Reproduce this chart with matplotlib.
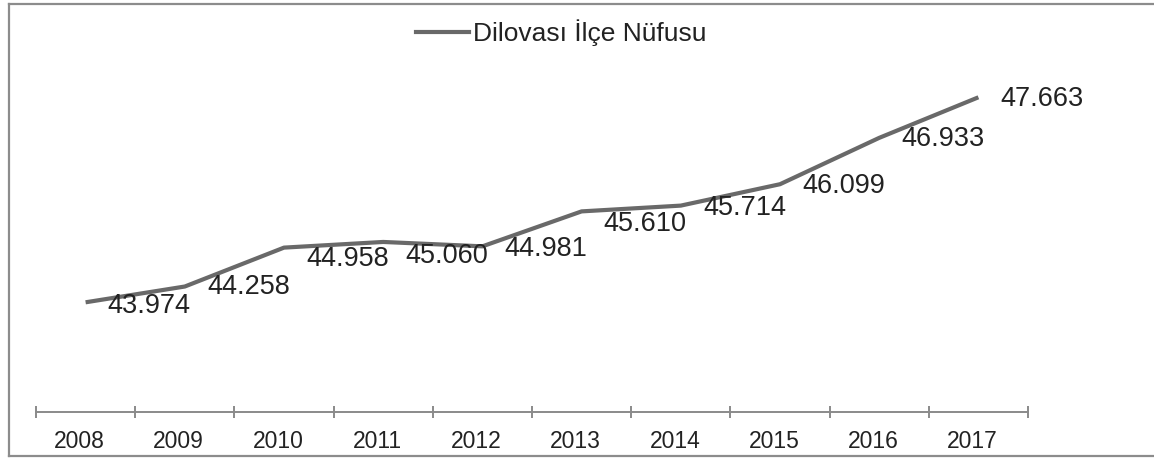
import matplotlib
matplotlib.use("Agg")
import matplotlib.pyplot as plt
from matplotlib.lines import Line2D
from matplotlib.transforms import offset_copy, ScaledTranslation

plt.rcParams['font.family'] = ['Liberation Sans', 'DejaVu Sans']

years = ["2008", "2009", "2010", "2011", "2012", "2013", "2014", "2015", "2016", "2017"]
population = [43974, 44258, 44958, 45060, 44981, 45610, 45714, 46099, 46933, 47663]
series_name = "Dilovası İlçe Nüfusu"

# vertical nudge (points, downward) for each value label
label_dy = [3, 0, 8, 10, 2, 9, 2, 1, 1, 1]

LINE_COLOR = "#696969"
TEXT_COLOR = "#222222"
AXIS_COLOR = "#8a8a8a"

W, H = 1154, 459
fig = plt.figure(figsize=(W / 100, H / 100), dpi=100)
fig.patch.set_facecolor("white")

ax = fig.add_axes([36 / W, 1 - 412 / H, (1028 - 36) / W, (412 - 23) / H])
x = list(range(len(years)))
ax.plot(x, population, color=LINE_COLOR, lw=3.0, solid_capstyle="butt",
        solid_joinstyle="round")

ax.set_xlim(-0.5, len(years) - 0.5)
ax.set_ylim(42000, 49000)
ax.set_yticks([])
for side in ("top", "right", "left"):
    ax.spines[side].set_visible(False)
ax.spines["bottom"].set_color(AXIS_COLOR)
ax.spines["bottom"].set_linewidth(1.4)

# category boundaries carry the tick marks, centres carry the labels
ax.set_xticks([i - 0.5 for i in range(len(years) + 1)])
ax.set_xticklabels([])
ax.set_xticks(x, minor=True)
ax.set_xticklabels(years, minor=True, fontsize=16.5, color=TEXT_COLOR)
ax.tick_params(axis="x", which="major", direction="inout", length=9,
               width=1.4, color=AXIS_COLOR)
ax.tick_params(axis="x", which="minor", length=0, pad=13)
shift = ScaledTranslation(-6 / 100, 0, fig.dpi_scale_trans)
for lbl in ax.get_xticklabels(minor=True):
    lbl.set_transform(lbl.get_transform() + shift)
ax.patch.set_alpha(0)

for xi, val, dy in zip(x, population, label_dy):
    txt = f"{val:,}".replace(",", ".")
    tr = offset_copy(ax.transData, fig=fig, x=16, y=-dy, units="points")
    ax.text(xi, val, txt, transform=tr, ha="left", va="center",
            fontsize=19.5, color=TEXT_COLOR)

# legend above the plot
leg = fig.legend(handles=[Line2D([0], [0], color=LINE_COLOR, lw=3.0)],
                 labels=[series_name], loc="center",
                 bbox_to_anchor=(561 / W, 1 - 33 / H), frameon=False,
                 fontsize=19, handlelength=2.0, handletextpad=0.15,
                 labelcolor=TEXT_COLOR)

# chart frame
frame_kw = dict(color="#8c8c8c", lw=1.6, transform=fig.transFigure)
fig.add_artist(Line2D([9 / W, 9 / W], [1 - 4 / H, 1 - 456 / H], **frame_kw))
fig.add_artist(Line2D([9 / W, 1.0], [1 - 4 / H, 1 - 4 / H], **frame_kw))
fig.add_artist(Line2D([9 / W, 1.0], [1 - 456 / H, 1 - 456 / H], **frame_kw))

fig.savefig("out.png", dpi=100)
